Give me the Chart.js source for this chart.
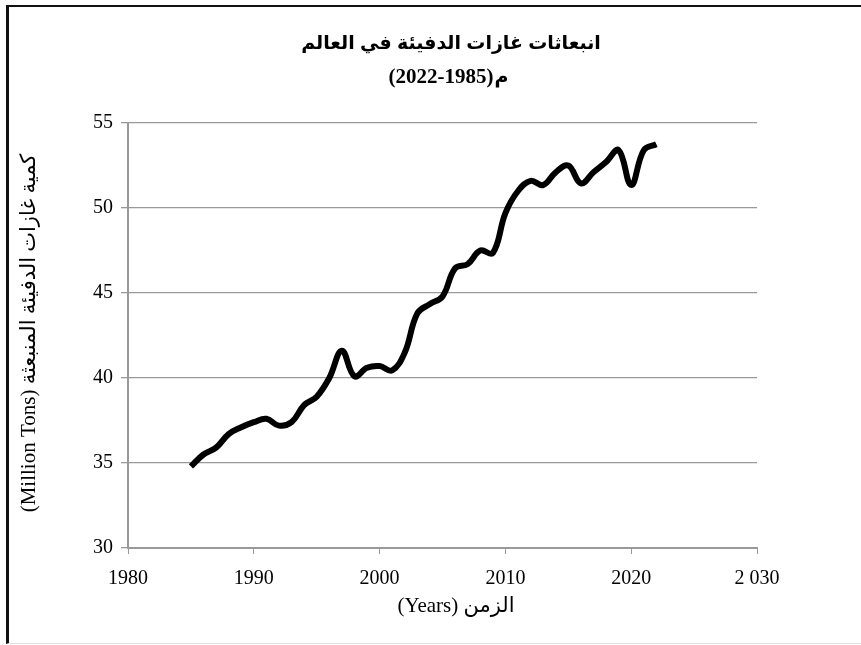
<!DOCTYPE html>
<html>
<head>
<meta charset="utf-8">
<script src="https://cdn.jsdelivr.net/npm/chart.js@4/dist/chart.umd.min.js"></script>
<style>
  html, body { margin: 0; padding: 0; background: #fff; overflow: hidden; }
  #wrap { position: relative; width: 861px; height: 645px; }
  #frame { position: absolute; left: 6px; top: 5px; width: 870px; height: 636px;
           border-top: 2px solid #111; border-left: 3px solid #111; border-bottom: 1px solid #e4e4e4; }
  canvas { position: absolute; left: 0; top: 0; }
</style>
</head>
<body>
<div id="wrap">
  <div id="frame"></div>
  <canvas id="emissions" width="861" height="645"></canvas>
</div>
<script>
// البيانات
const years = [1985, 1986, 1987, 1988, 1989, 1990, 1991, 1992, 1993, 1994, 1995, 1996, 1997, 1998, 1999,
               2000, 2001, 2002, 2003, 2004, 2005, 2006, 2007, 2008, 2009, 2010, 2011, 2012, 2013, 2014,
               2015, 2016, 2017, 2018, 2019, 2020, 2021, 2022];
const emissions = [34.8, 35.5, 35.9, 36.7, 37.1, 37.4, 37.6, 37.2, 37.4, 38.4, 38.9, 40.0, 41.6, 40.1, 40.6,
                   40.7, 40.45, 41.5, 43.8, 44.35, 44.8, 46.45, 46.7, 47.5, 47.35, 49.7, 51.0, 51.6, 51.35, 52.1,
                   52.5, 51.45, 52.1, 52.7, 53.4, 51.35, 53.4, 53.75];
const xTicks = [1980, 1990, 2000, 2010, 2020, 2030];
const yTicks = [30, 35, 40, 45, 50, 55];

const titleLine1 = 'انبعاثات غازات الدفيئة في العالم';
const titleYears = '(2022-1985)';
const titleSuffix = 'م';
const xTitle = 'الزمن (Years)';
const yTitle = 'كمية غازات الدفيئة المنبعثة (Million Tons)';

const serif = '"Liberation Serif", "Times New Roman", "DejaVu Sans", serif';
const axisGray = '#999999';

// العناوين ترسم يدوياً لضبط مواضعها
const textPlugin = {
  id: 'texts',
  afterDraw(chart) {
    const ctx = chart.ctx;
    ctx.save();
    ctx.fillStyle = '#000';
    ctx.textBaseline = 'middle';

    ctx.textAlign = 'center';
    ctx.direction = 'rtl';
    ctx.font = 'bold 19px "Liberation Sans", "DejaVu Sans", sans-serif';
    ctx.fillText(titleLine1, 451, 44);

    // السطر الثاني: الأرقام ثم حرف الميم على اليمين
    ctx.direction = 'ltr';
    ctx.font = 'bold 21px ' + serif;
    const w1 = ctx.measureText(titleYears).width;
    ctx.font = 'bold 19px "DejaVu Sans", sans-serif';
    const w2 = ctx.measureText(titleSuffix).width;
    const x0 = 448 - (w1 + w2) / 2;
    ctx.textAlign = 'left';
    ctx.font = 'bold 21px ' + serif;
    ctx.fillText(titleYears, x0, 78);
    ctx.font = 'bold 19px "DejaVu Sans", sans-serif';
    ctx.fillText(titleSuffix, x0 + w1 + 1, 78);

    ctx.textAlign = 'center';
    ctx.direction = 'rtl';
    ctx.font = '21px ' + serif;
    ctx.fillText(xTitle, 456, 606);

    ctx.translate(29, 333);
    ctx.rotate(-Math.PI / 2);
    ctx.fillText(yTitle, 0, 0);
    ctx.restore();
  }
};

window.onload = () => {
  new Chart(document.getElementById('emissions'), {
    type: 'line',
    data: {
      datasets: [{
        data: years.map((y, i) => ({ x: y, y: emissions[i] })),
        borderColor: '#000',
        borderWidth: 6,
        pointRadius: 0,
        tension: 0.4,
        fill: false
      }]
    },
    options: {
      responsive: false,
      animation: false,
      layout: { padding: { left: 0, top: 123, right: 104, bottom: 47 } },
      plugins: { legend: { display: false }, title: { display: false }, tooltip: { enabled: false } },
      scales: {
        x: {
          type: 'linear',
          min: 1980,
          max: 2030,
          afterBuildTicks: s => { s.ticks = xTicks.map(v => ({ value: v })); },
          afterFit: s => { s.height = 50; },
          grid: { drawOnChartArea: false, drawTicks: true, tickLength: 6, color: axisGray, lineWidth: 1 },
          border: { color: axisGray, width: 2 },
          ticks: {
            color: '#000',
            padding: 13,
            maxRotation: 0,
            font: { family: serif, size: 20 },
            callback: v => v === 2030 ? '2 030' : String(v)
          }
        },
        y: {
          min: 30,
          max: 55,
          afterBuildTicks: s => { s.ticks = yTicks.map(v => ({ value: v })); },
          afterFit: s => { s.width = 128; },
          grid: { drawTicks: true, tickLength: 7, color: axisGray, lineWidth: 1.3 },
          border: { color: axisGray, width: 2 },
          ticks: {
            color: '#000',
            padding: 8,
            font: { family: serif, size: 20 }
          }
        }
      }
    },
    plugins: [textPlugin]
  });
};
</script>
</body>
</html>
